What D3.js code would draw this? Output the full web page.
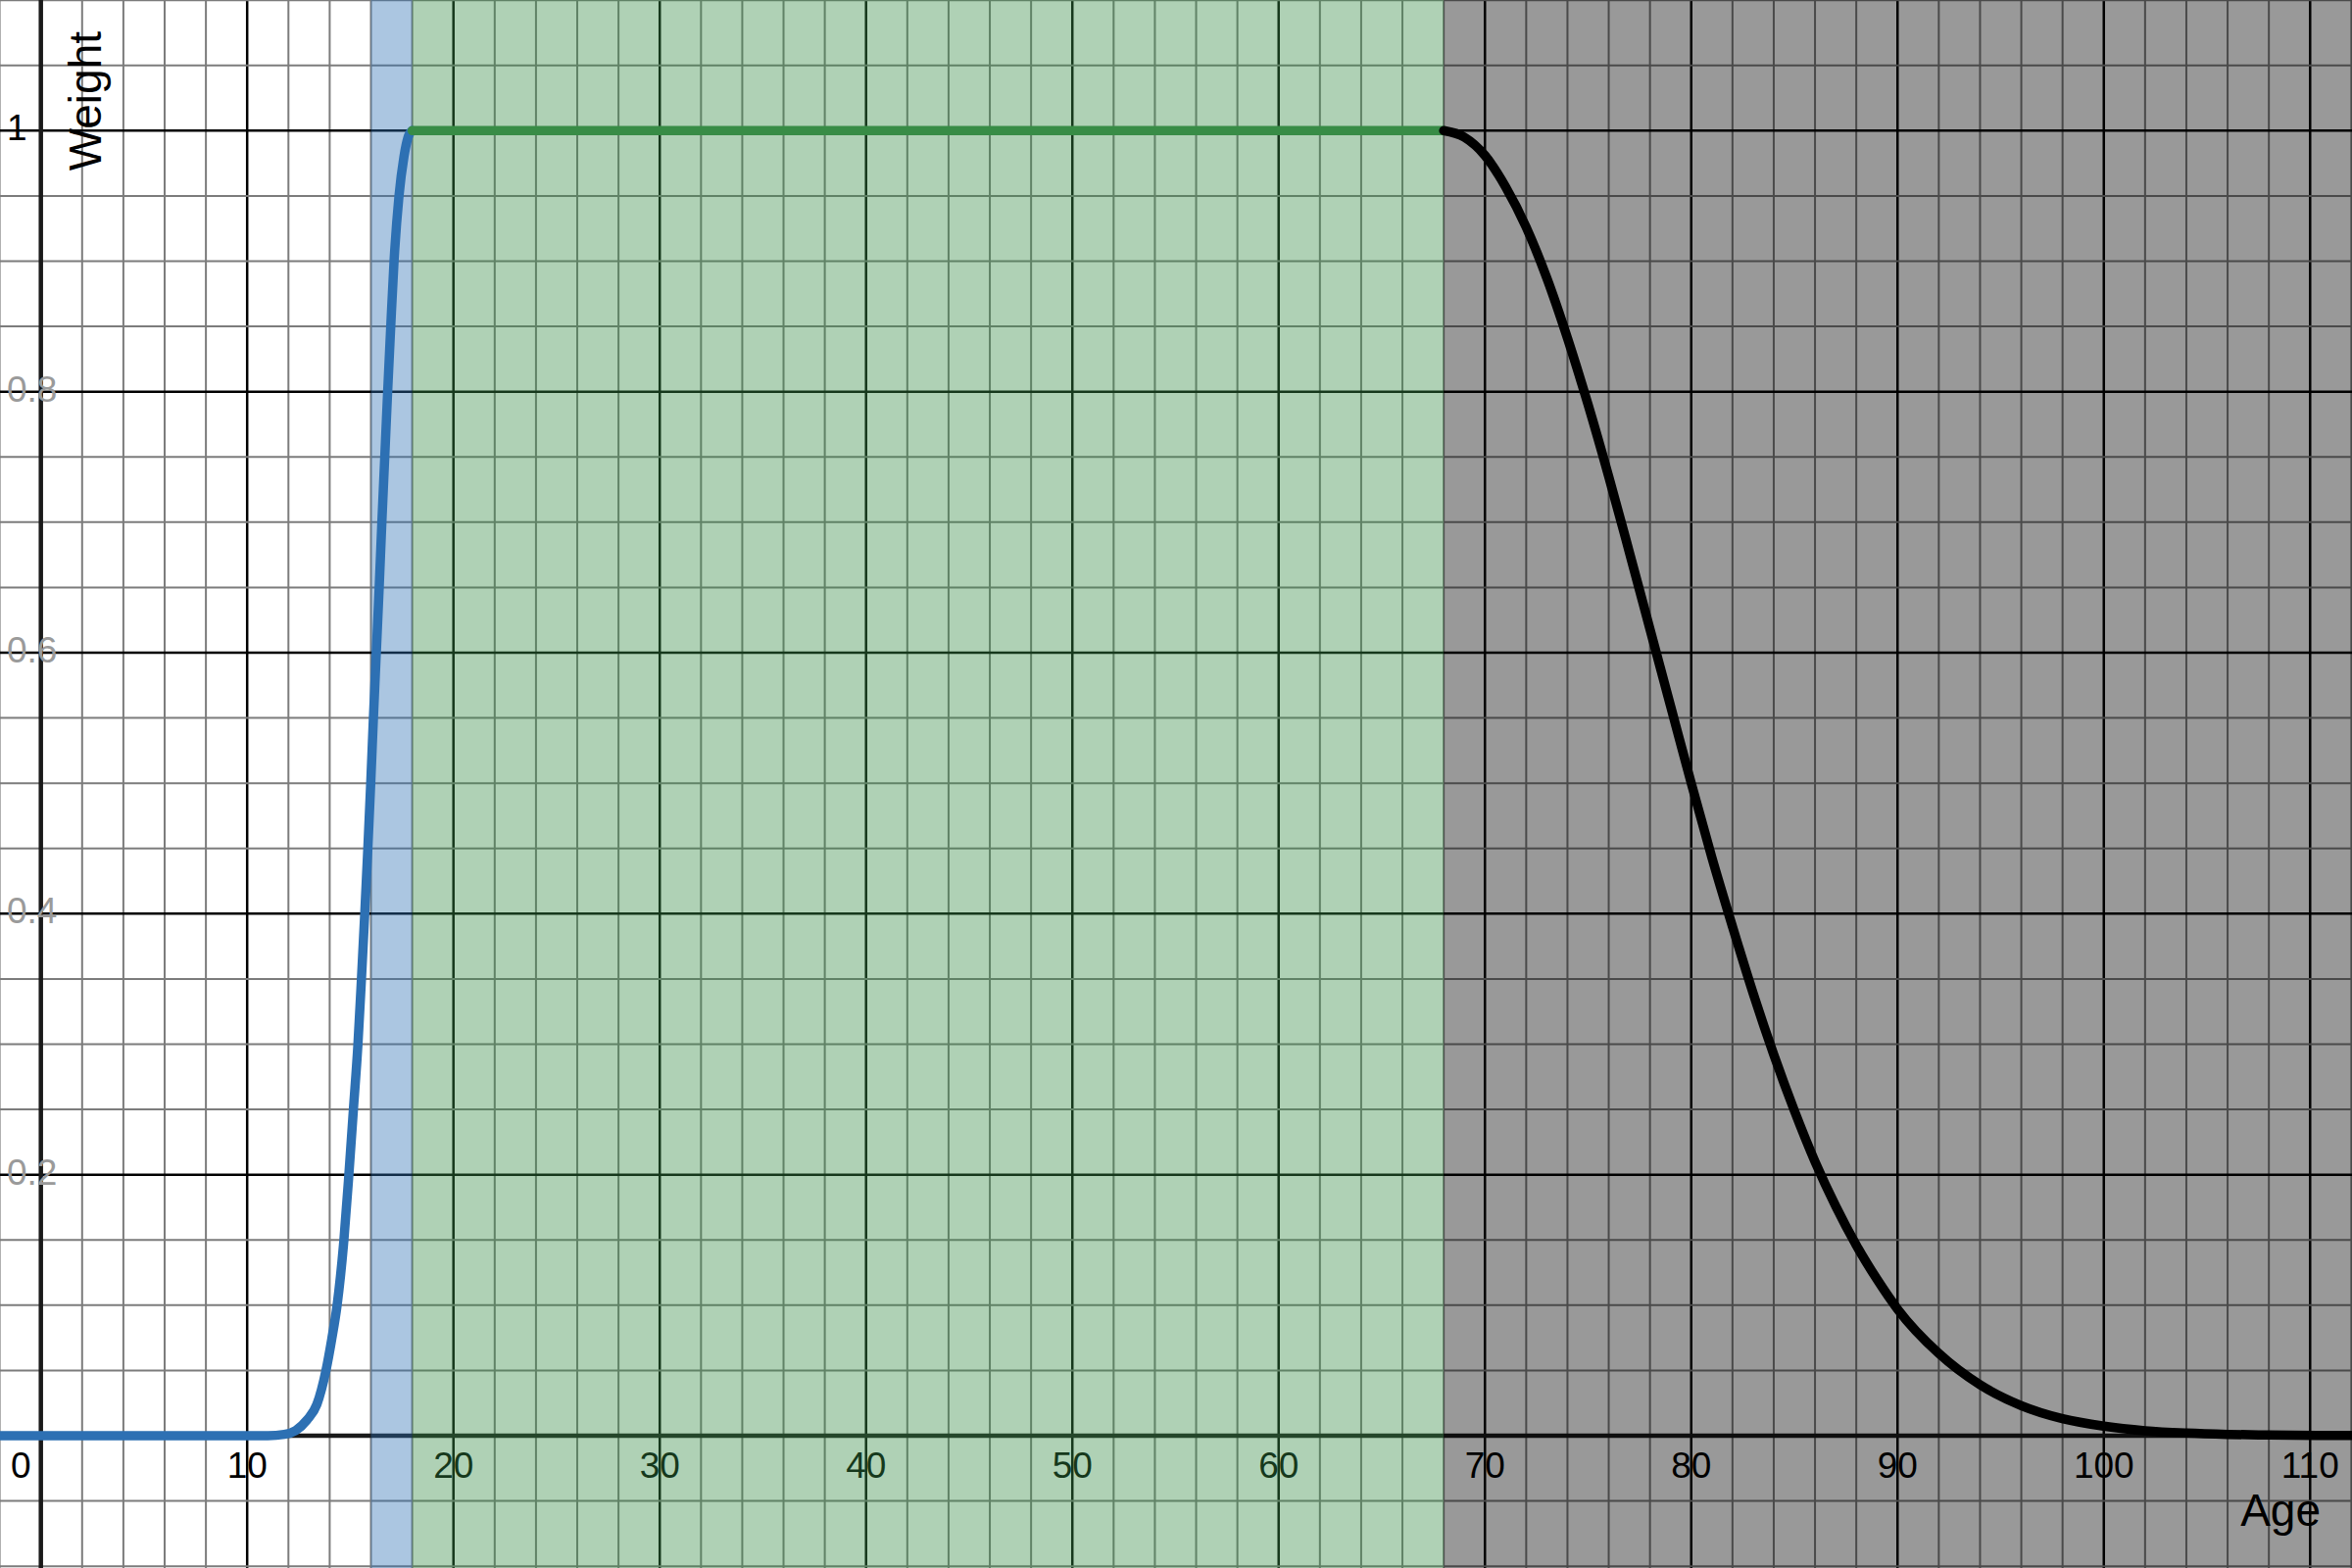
<!DOCTYPE html>
<html>
<head>
<meta charset="utf-8">
<script src="https://d3js.org/d3.v7.min.js"></script>
<style>
  body { margin: 0; background: #fff; }
  svg { display: block; font-family: "Liberation Sans", Arial, sans-serif; }
</style>
</head>
<body>
<svg id="chart"></svg>
<script>
const W = 2400;
const H = 1600;

// values
const xTickValues = [0, 10, 20, 30, 40, 50, 60, 70, 80, 90, 100, 110];
const yTickValues = [0.2, 0.4, 0.6, 0.8, 1];
const yTickLabels = ["0.2", "0.4", "0.6", "0.8", "1"];

const bandStarts = [16, 18, 68];
const bandEnds = [18, 68, 112.1];

const blueAges = [-2, 11, 11.8, 12.35, 12.9, 13.38, 13.82, 14.1, 14.36, 14.69, 14.93, 15.15, 15.37, 15.54,
  15.7, 15.85, 15.99, 16.12, 16.26, 16.4, 16.53, 16.67, 16.81, 16.96, 17.12, 17.36, 17.6, 17.8, 18];
const blueWeights = [0, 0, 0.001, 0.004, 0.012, 0.024, 0.05, 0.074, 0.1, 0.15, 0.2, 0.25, 0.3, 0.35,
  0.4, 0.45, 0.5, 0.55, 0.6, 0.65, 0.7, 0.75, 0.8, 0.85, 0.9, 0.95, 0.98, 0.995, 1];

const greenAges = [18, 68];
const greenWeights = [1, 1];

const blackAges = [68, 69, 70, 71, 72, 73, 74, 75, 76, 77, 78, 79, 80, 81, 82, 83, 84, 85, 86, 87, 88,
  89, 90, 92, 94, 96, 98, 100, 102, 104, 106, 108, 112.1];
const blackWeights = [1, 0.995, 0.981, 0.957, 0.926, 0.887, 0.841, 0.79, 0.735, 0.677, 0.618, 0.559, 0.5,
  0.443, 0.39, 0.339, 0.292, 0.249, 0.21, 0.176, 0.146, 0.12, 0.097, 0.063, 0.039, 0.023, 0.013, 0.0073,
  0.0038, 0.002, 0.001, 0.0005, 0.0001];

const x = d3.scaleLinear().domain([-1.981, 112.03]).range([0, W]);
const y = d3.scaleLinear().domain([-0.1014, 1.1001]).range([H, 0]);

const svg = d3.select("#chart")
  .attr("width", W)
  .attr("height", H);

// grid
const xMinor = d3.range(-2, 114, 2);
const yMinor = d3.range(-2, 23).map(i => i * 0.05);
const isMajorX = v => Math.abs(v % 10) < 1e-6;
const isMajorY = v => Math.abs(Math.round(v * 5) - v * 5) < 1e-6;

const grid = svg.append("g");
grid.selectAll("line.vx")
  .data(xMinor.filter(v => v !== 0))
  .join("line")
  .attr("x1", d => x(d)).attr("x2", d => x(d))
  .attr("y1", 0).attr("y2", H)
  .attr("stroke", d => isMajorX(d) ? "#000" : "#7c7c7c")
  .attr("stroke-width", d => isMajorX(d) ? 2.5 : 2);
grid.selectAll("line.hy")
  .data(yMinor.filter(v => Math.abs(v) > 1e-6))
  .join("line")
  .attr("x1", 0).attr("x2", W)
  .attr("y1", d => y(d)).attr("y2", d => y(d))
  .attr("stroke", d => isMajorY(d) ? "#000" : "#7c7c7c")
  .attr("stroke-width", d => isMajorY(d) ? 2.5 : 2);

// axes
svg.append("line")
  .attr("x1", x(0)).attr("x2", x(0))
  .attr("y1", 0).attr("y2", H)
  .attr("stroke", "#1a1a1a")
  .attr("stroke-width", 4.5);
svg.append("line")
  .attr("x1", 0).attr("x2", W)
  .attr("y1", y(0)).attr("y2", y(0))
  .attr("stroke", "#1a1a1a")
  .attr("stroke-width", 4.5);

// tick labels
svg.append("g").selectAll("text")
  .data(xTickValues)
  .join("text")
  .attr("x", d => d === 0 ? x(0) - 10 : x(d))
  .attr("y", y(0) + 43)
  .attr("text-anchor", d => d === 0 ? "end" : "middle")
  .style("font-size", "37px")
  .style("fill", "#000")
  .text(d => d);

svg.append("g").selectAll("text")
  .data(yTickValues)
  .join("text")
  .attr("x", d => d === 1 ? x(0) - 14 : 7)
  .attr("y", d => y(d) + 10)
  .attr("text-anchor", d => d === 1 ? "end" : "start")
  .style("font-size", "37px")
  .style("fill", d => d === 1 ? "#000" : "#9a9a9a")
  .text((d, i) => yTickLabels[i]);

// axis titles
svg.append("text")
  .attr("transform", `translate(${x(0) + 61},32) rotate(-90)`)
  .attr("text-anchor", "end")
  .style("font-size", "46px")
  .style("fill", "#000")
  .text("Weight");

svg.append("text")
  .attr("x", 2368)
  .attr("y", y(0) + 92)
  .attr("text-anchor", "end")
  .style("font-size", "46px")
  .style("fill", "#000")
  .text("Age");

// shaded bands, drawn over the grid
const bandColors = ["#2d70b3", "#388c46", "#000000"];
svg.append("g").selectAll("rect")
  .data(bandStarts)
  .join("rect")
  .attr("x", d => x(d))
  .attr("y", 0)
  .attr("width", (d, i) => x(bandEnds[i]) - x(d))
  .attr("height", H)
  .attr("fill", (d, i) => bandColors[i])
  .attr("fill-opacity", 0.4);

// curves
const line = d3.line()
  .x(d => x(d[0]))
  .y(d => y(d[1]))
  .curve(d3.curveMonotoneX);

function drawCurve(ages, weights, color) {
  svg.append("path")
    .datum(ages.map((a, i) => [a, weights[i]]))
    .attr("d", line)
    .attr("fill", "none")
    .attr("stroke", color)
    .attr("stroke-width", 9.5)
    .attr("stroke-linecap", "round")
    .attr("stroke-linejoin", "round");
}

drawCurve(blueAges, blueWeights, "#2d70b3");
drawCurve(greenAges, greenWeights, "#388c46");
drawCurve(blackAges, blackWeights, "#000000");
</script>
</body>
</html>
